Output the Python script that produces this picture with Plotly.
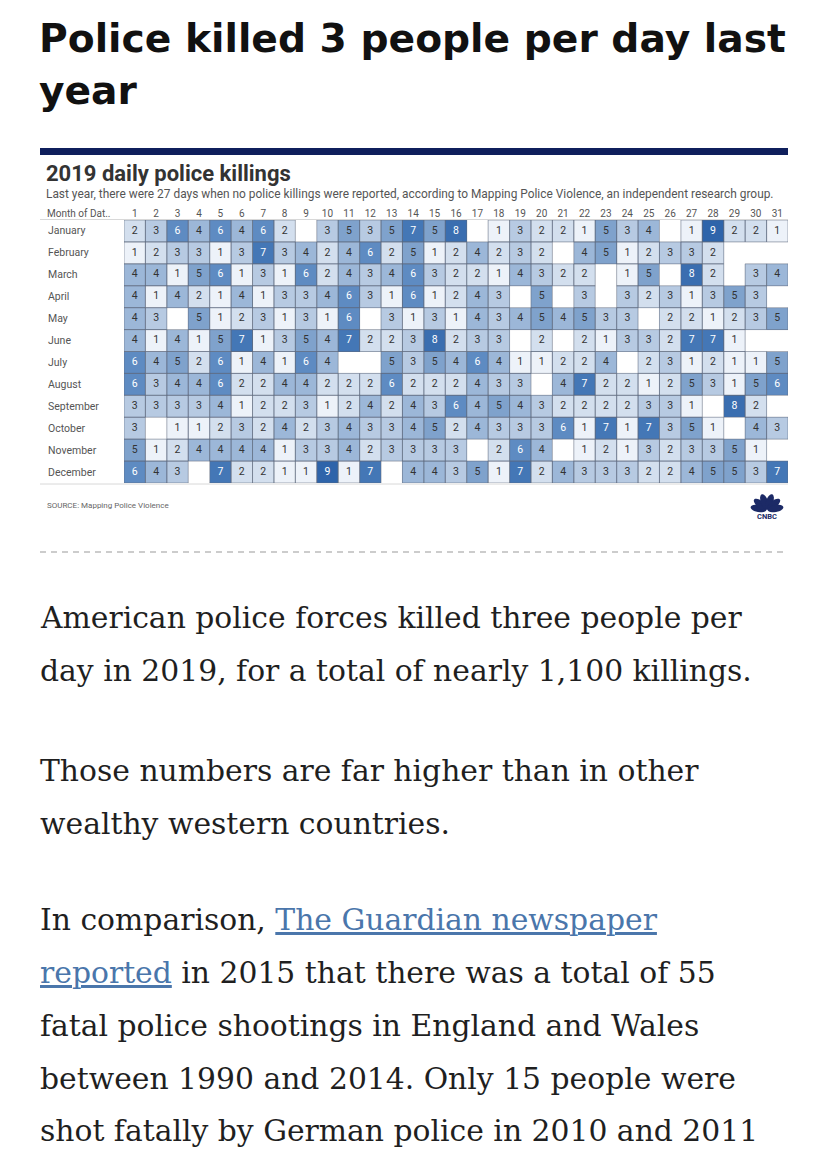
import math
import plotly.graph_objects as go

# Browser puts the plot at an 8px body margin; map reference pixels accordingly
OFF = 8
W, H = 828 - 2 * OFF, 1158 - 2 * OFF


def px(x):
    return (x - OFF) / W


def py(y):
    return 1 - (y - OFF) / H


# ---------------- data ----------------
months = ["January", "February", "March", "April", "May", "June", "July",
          "August", "September", "October", "November", "December"]
days = list(range(1, 32))
day_labels = [str(d) for d in days]

jan = [2, 3, 6, 4, 6, 4, 6, 2, 0, 3, 5, 3, 5, 7, 5, 8, 0, 1, 3, 2, 2, 1, 5, 3, 4, 0, 1, 9, 2, 2, 1]
feb = [1, 2, 3, 3, 1, 3, 7, 3, 4, 2, 4, 6, 2, 5, 1, 2, 4, 2, 3, 2, 0, 4, 5, 1, 2, 3, 3, 2]
mar = [4, 4, 1, 5, 6, 1, 3, 1, 6, 2, 4, 3, 4, 6, 3, 2, 2, 1, 4, 3, 2, 2, 0, 1, 5, 0, 8, 2, 0, 3, 4]
apr = [4, 1, 4, 2, 1, 4, 1, 3, 3, 4, 6, 3, 1, 6, 1, 2, 4, 3, 0, 5, 0, 3, 0, 3, 2, 3, 1, 3, 5, 3]
may = [4, 3, 0, 5, 1, 2, 3, 1, 3, 1, 6, 0, 3, 1, 3, 1, 4, 3, 4, 5, 4, 5, 3, 3, 0, 2, 2, 1, 2, 3, 5]
jun = [4, 1, 4, 1, 5, 7, 1, 3, 5, 4, 7, 2, 2, 3, 8, 2, 3, 3, 0, 2, 0, 2, 1, 3, 3, 2, 7, 7, 1, 0]
jul = [6, 4, 5, 2, 6, 1, 4, 1, 6, 4, 0, 0, 5, 3, 5, 4, 6, 4, 1, 1, 2, 2, 4, 0, 2, 3, 1, 2, 1, 1, 5]
aug = [6, 3, 4, 4, 6, 2, 2, 4, 4, 2, 2, 2, 6, 2, 2, 2, 4, 3, 3, 0, 4, 7, 2, 2, 1, 2, 5, 3, 1, 5, 6]
sep = [3, 3, 3, 3, 4, 1, 2, 2, 3, 1, 2, 4, 2, 4, 3, 6, 4, 5, 4, 3, 2, 2, 2, 2, 3, 3, 1, 0, 8, 2]
oct_ = [3, 0, 1, 1, 2, 3, 2, 4, 2, 3, 4, 3, 3, 4, 5, 2, 4, 3, 3, 3, 6, 1, 7, 1, 7, 3, 5, 1, 0, 4, 3]
nov = [5, 1, 2, 4, 4, 4, 4, 1, 3, 3, 4, 2, 3, 3, 3, 3, 0, 2, 6, 4, 0, 1, 2, 1, 3, 2, 3, 3, 5, 1]
dec = [6, 4, 3, 0, 7, 2, 2, 1, 1, 9, 1, 7, 0, 4, 4, 3, 5, 1, 7, 2, 4, 3, 3, 3, 2, 2, 4, 5, 5, 3, 7]

rows = [jan, feb, mar, apr, may, jun, jul, aug, sep, oct_, nov, dec]

# ---------------- style ----------------
SANS = "Roboto"
SERIF = "DejaVu Serif"
HEAD = "DejaVu Sans"
GREY = "#555555"
BODY = "#1f1f1f"
LINK = "#4a76ab"

colorscale = [
    [0.000, "#edf2f9"],
    [0.125, "#d3dfee"],
    [0.250, "#b7cae2"],
    [0.375, "#9cb7d8"],
    [0.500, "#7fa2cc"],
    [0.625, "#5e8bc2"],
    [0.750, "#4477b6"],
    [0.875, "#3a6eb0"],
    [1.000, "#2e64aa"],
]

z = []
for r in rows:
    z.append([(v if v > 0 else None) for v in r] + [None] * (31 - len(r)))

fig = go.Figure()
fig.add_trace(go.Heatmap(
    z=z, x=days, y=list(range(12)),
    colorscale=colorscale, zmin=1, zmax=9, showscale=False,
    hoverinfo="skip",
))

tx, ty, tt, tc = [], [], [], []
for i, r in enumerate(rows):
    for j, v in enumerate(r):
        if v > 0:
            tx.append(days[j])
            ty.append(i)
            tt.append(str(v))
            tc.append("#ffffff" if v >= 6 else "#333333")
fig.add_trace(go.Scatter(
    x=tx, y=ty, text=tt, mode="text",
    textfont=dict(family=SANS, size=10.5, color=tc),
    hoverinfo="skip", showlegend=False,
))

shapes = []
# cell borders
for i, r in enumerate(rows):
    for j, v in enumerate(r):
        if v > 0:
            shapes.append(dict(type="rect", xref="x", yref="y",
                               x0=days[j] - 0.5, x1=days[j] + 0.5,
                               y0=i - 0.5, y1=i + 0.5,
                               line=dict(color="rgba(95,105,125,0.55)", width=1),
                               fillcolor="rgba(0,0,0,0)", layer="above"))

# navy bar
shapes.append(dict(type="rect", xref="paper", yref="paper",
                   x0=px(40), x1=px(788), y0=py(155), y1=py(148),
                   fillcolor="#0f1f5c", line=dict(width=0)))
# separator lines
for yy in (219.5, 484):
    shapes.append(dict(type="line", xref="paper", yref="paper",
                       x0=px(40), x1=px(788), y0=py(yy), y1=py(yy),
                       line=dict(color="#d8d8d8", width=1)))
# dashed divider
shapes.append(dict(type="line", xref="paper", yref="paper",
                   x0=px(40), x1=px(788), y0=py(552), y1=py(552),
                   line=dict(color="#9a9a9a", width=1.2, dash="6px,5px")))

# CNBC peacock (decorative)
cx, cy = 767, 510
for k, ang in enumerate([170, 140, 108, 72, 40, 10]):
    a, b = 8.0, 3.6
    th = math.radians(ang)
    ux, uy = math.cos(th), -math.sin(th)
    vx, vy = -uy, ux
    mx, my = cx + ux * (a + 0.6), cy + uy * (a + 0.6)
    pts = []
    for s in range(0, 25):
        t = 2 * math.pi * s / 24
        ex = a * math.cos(t)
        ey = b * math.sin(t)
        pts.append((mx + ex * ux + ey * vx, my + ex * uy + ey * vy))
    path = "M " + " L ".join(f"{px(p[0]):.5f},{py(p[1]):.5f}" for p in pts) + " Z"
    shapes.append(dict(type="path", xref="paper", yref="paper", path=path,
                       fillcolor="#1c2a66", line=dict(width=0)))

annotations = []


def txt(x, y, text, size, color, family=SANS, weight=None, xanchor="left"):
    f = dict(family=family, size=size, color=color)
    if weight is not None:
        f["weight"] = weight
    annotations.append(dict(x=px(x), y=py(y), xref="paper", yref="paper",
                            text=text, showarrow=False, xanchor=xanchor,
                            yanchor="middle", align="left", font=f))


# article headline
txt(37, 38, "Police killed 3 people per day last", 39.2, "#111111", family=HEAD, weight=700)
txt(37, 90, "year", 39.2, "#111111", family=HEAD, weight=700)

# chart title block
txt(44, 173.5, "2019 daily police killings", 22, "#333333", family=SANS, weight=700)
txt(44, 194.5, "Last year, there were 27 days when no police killings were reported, "
               "according to Mapping Police Violence, an independent research group.",
    11.9, GREY, family=SANS)
txt(45, 213, "Month of Dat..", 10, GREY)

for i, m in enumerate(months):
    annotations.append(dict(x=px(46), y=i, xref="paper", yref="y", text=m,
                            showarrow=False, xanchor="left", yanchor="middle",
                            font=dict(family=SANS, size=10.5, color=GREY)))

txt(45, 505, "SOURCE: Mapping Police Violence", 8, "#666666")
txt(767, 516, "<b>CNBC</b>", 7.5, "#1c2a66", xanchor="center")

# article body
body_lines = [
    (617, "American police forces killed three people per"),
    (670, "day in 2019, for a total of nearly 1,100 killings."),
    (770, "Those numbers are far higher than in other"),
    (823, "wealthy western countries."),
    (920, "In comparison, <span style='color:%s'><u>The Guardian newspaper</u></span>" % LINK),
    (972, "<span style='color:%s'><u>reported</u></span> in 2015 that there was a total of 55" % LINK),
    (1025, "fatal police shootings in England and Wales"),
    (1078, "between 1990 and 2014. Only 15 people were"),
    (1130, "shot fatally by German police in 2010 and 2011"),
]
for y, t in body_lines:
    txt(38, y, t, 29.8, BODY, family=SERIF)

fig.update_layout(
    width=W, height=H,
    margin=dict(l=0, r=0, t=0, b=0),
    paper_bgcolor="white", plot_bgcolor="white",
    showlegend=False,
    shapes=shapes, annotations=annotations,
    xaxis=dict(domain=[px(124), px(788)], range=[0.5, 31.5],
               side="top", tickmode="array", tickvals=days, ticktext=day_labels,
               ticks="", showgrid=False, zeroline=False, showline=False,
               tickfont=dict(family=SANS, size=10, color=GREY), fixedrange=True),
    yaxis=dict(domain=[py(483), py(220)], range=[11.5, -0.5],
               showticklabels=False, ticks="", showgrid=False, zeroline=False,
               showline=False, fixedrange=True),
)

fig.write_html("out.html")
